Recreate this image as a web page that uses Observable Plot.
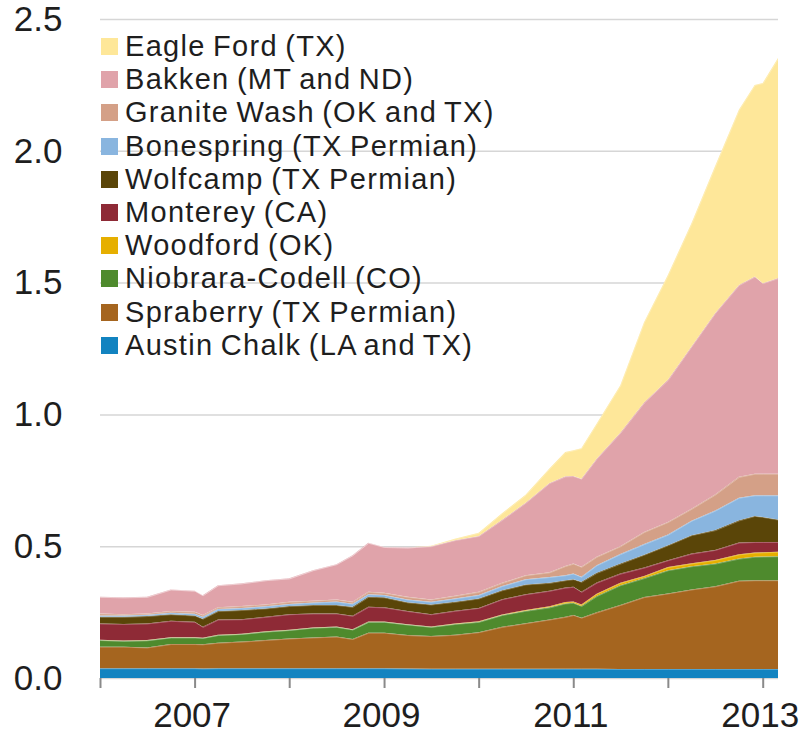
<!DOCTYPE html>
<html><head><meta charset="utf-8">
<script src="https://cdn.jsdelivr.net/npm/d3@7"></script>
<script src="https://cdn.jsdelivr.net/npm/@observablehq/plot@0.6"></script>
<style>
body{margin:0;background:#fff;}
#wrap{position:relative;width:801px;height:735px;font-family:"Liberation Sans",Arial,sans-serif;}
#legend{position:absolute;left:101px;top:30px;}
.row{display:flex;align-items:center;height:33.2px;font-size:29px;letter-spacing:1.3px;word-spacing:-2px;color:#1e1e1e;white-space:nowrap;}
.sw{width:17px;height:17px;margin-right:7px;flex:none;}
</style></head><body>
<div id="wrap"><div id="legend"></div></div>
<script>
const months = ["2006-01","2006-04","2006-07","2006-10","2007-01","2007-02","2007-04","2007-07","2007-10","2008-01","2008-04","2008-07","2008-09","2008-11","2009-01","2009-04","2009-07","2009-10","2010-01","2010-04","2010-07","2010-10","2010-12","2011-01","2011-02","2011-04","2011-07","2011-10","2012-01","2012-04","2012-07","2012-10","2012-12","2013-01","2013-03"];

const austinChalk = [.037,.037,.037,.037,.037,.036,.037,.037,.037,.037,.037,.037,.037,.037,.037,.036,.035,.035,.035,.035,.035,.035,.035,.035,.035,.035,.034,.034,.034,.034,.034,.034,.034,.034,.034];
const spraberry = [.082,.082,.079,.092,.092,.092,.097,.101,.107,.113,.117,.120,.111,.135,.135,.127,.124,.129,.139,.159,.173,.187,.197,.204,.194,.214,.243,.273,.287,.302,.314,.335,.337,.337,.337];
const niobrara = [.025,.022,.027,.025,.025,.024,.029,.029,.032,.032,.037,.037,.036,.041,.041,.040,.035,.041,.039,.045,.047,.046,.051,.046,.044,.062,.075,.072,.088,.088,.086,.084,.089,.090,.091];
const woodford = [.001,.001,.001,.001,.001,.001,.001,.001,.001,.001,.001,.001,.001,.001,.001,.001,.001,.002,.002,.002,.003,.004,.005,.005,.006,.009,.009,.008,.012,.011,.014,.016,.016,.016,.017];
const monterey = [.062,.063,.063,.062,.058,.041,.058,.055,.055,.059,.053,.050,.051,.056,.054,.050,.047,.048,.051,.058,.060,.059,.055,.056,.048,.042,.035,.032,.026,.037,.038,.045,.040,.039,.037];
const wolfcamp = [.025,.027,.028,.025,.024,.031,.032,.035,.032,.031,.032,.032,.034,.038,.038,.033,.037,.034,.036,.034,.037,.030,.028,.029,.038,.037,.038,.049,.057,.070,.075,.084,.099,.095,.085];
const bonespring = [.005,.005,.005,.006,.007,.007,.008,.008,.008,.008,.009,.013,.012,.010,.009,.011,.010,.013,.013,.016,.020,.022,.019,.021,.019,.029,.036,.040,.040,.055,.074,.086,.078,.082,.092];
const graniteWash = [.008,.005,.005,.006,.007,.007,.006,.007,.007,.008,.007,.008,.007,.009,.008,.010,.009,.010,.012,.012,.015,.018,.035,.038,.038,.032,.030,.046,.048,.045,.061,.079,.082,.082,.082];
const bakken = [.063,.064,.063,.082,.080,.075,.084,.086,.092,.089,.116,.134,.177,.186,.174,.187,.202,.211,.212,.239,.275,.339,.340,.332,.334,.372,.430,.491,.539,.616,.688,.728,.748,.723,.742];
const eagleFord = [0,0,0,0,0,0,0,0,0,0,0,0,0,0,0,0,.002,.005,.012,.025,.030,.055,.092,.098,.116,.133,.180,.305,.398,.467,.557,.665,.727,.759,.835];

// bottom-to-top stacking order
const seriesNames = ["Austin Chalk (LA and TX)","Spraberry (TX Permian)","Niobrara-Codell (CO)","Woodford (OK)","Monterey (CA)","Wolfcamp (TX Permian)","Bonespring (TX Permian)","Granite Wash (OK and TX)","Bakken (MT and ND)","Eagle Ford (TX)"];
const seriesValues = [austinChalk,spraberry,niobrara,woodford,monterey,wolfcamp,bonespring,graniteWash,bakken,eagleFord];
const seriesColors = ["#1283c0","#a5651f","#4e8a2d","#e6af00","#8e2a36","#5a4508","#89b5df","#d4a087","#e0a3aa","#fee799"];

const yTicks = [0,0.5,1.0,1.5,2.0,2.5];
const yearTicks = [2006,2007,2008,2009,2010,2011,2012,2013];
const labeledYears = [2007,2009,2011,2013];

const parseMonth = s => { const [y,m] = s.split("-").map(Number); return new Date(Date.UTC(y, m-1, 1)); };
const yearDate = y => new Date(Date.UTC(y, 0, 1));
const data = seriesNames.flatMap((name, k) => seriesValues[k].map((v, i) => ({date: parseMonth(months[i]), series: name, value: v})));

const chart = Plot.plot({
  width: 801, height: 735,
  marginLeft: 100, marginRight: 23, marginTop: 19, marginBottom: 57,
  style: {fontFamily: "'Liberation Sans', Arial, sans-serif", color: "#1e1e1e", background: "white"},
  x: {type: "utc", domain: [parseMonth(months[0]), parseMonth(months[months.length-1])]},
  y: {domain: [0, 2.5]},
  color: {domain: seriesNames, range: seriesColors},
  marks: [
    Plot.ruleY(yTicks, {stroke: "#d6d6d6", strokeWidth: 1.5}),
    Plot.areaY(data, {x: "date", y: "value", z: "series", fill: "series", order: seriesNames}),
    Plot.lineY(data, Plot.stackY2({x: "date", y: "value", z: "series", order: seriesNames, stroke: "#ffffff", strokeOpacity: 0.35, strokeWidth: 0.8})),
    Plot.axisX({ticks: yearTicks.map(yearDate), tickSize: 10, stroke: "#8a8a8a", strokeWidth: 2, label: null, tickFormat: () => ""}),
    Plot.axisX({ticks: labeledYears.map(yearDate), tickSize: 0, tickPadding: 24, fill: "#1e1e1e", fontSize: 35, dx: -3, label: null,
      tickFormat: d => String(d.getUTCFullYear())}),
    Plot.axisY({ticks: yTicks, tickSize: 0, tickPadding: 38, fill: "#1e1e1e", fontSize: 35, label: null, tickFormat: d => d.toFixed(1)})
  ]
});
const wrap = document.getElementById("wrap");
wrap.insertBefore(chart, wrap.firstChild);

const legend = document.getElementById("legend");
for (let k = seriesNames.length - 1; k >= 0; k--) {
  const row = document.createElement("div");
  row.className = "row";
  const sw = document.createElement("div");
  sw.className = "sw";
  sw.style.background = seriesColors[k];
  const t = document.createElement("span");
  t.textContent = seriesNames[k];
  row.appendChild(sw); row.appendChild(t);
  legend.appendChild(row);
}
</script>
</body></html>
